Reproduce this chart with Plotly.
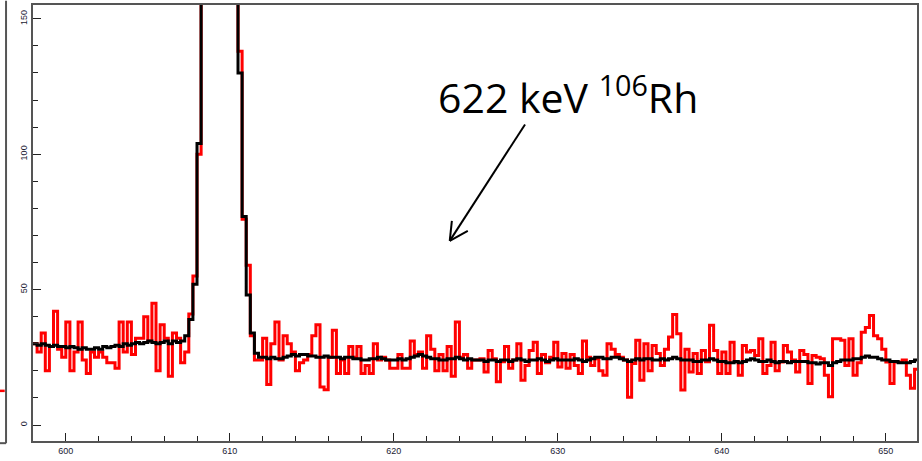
import plotly.graph_objects as go

# ---- data (energy bins of 0.25 keV starting at 598 keV) ----
bin_start = 598.0
bin_width = 0.25

measured_counts = [
    30, 27, 34, 20, 29, 42, 28, 25, 38, 20,
    27, 38, 24, 19, 27, 25, 27, 25, 23, 23,
    21, 38, 27, 38, 26, 32, 32, 40, 31, 45,
    20, 37, 32, 18, 34, 32, 23, 27, 41, 55,
    100, 230, 410, 650, 790, 830, 690, 510, 310, 200,
    138, 76, 59, 33, 24, 24, 32, 15, 30, 38,
    24, 33, 30, 27, 20, 23, 24, 26, 33, 37,
    14, 13, 25, 35, 19, 24, 19, 29, 25, 29,
    19, 22, 19, 30, 24, 25, 24, 21, 21, 26,
    21, 21, 31, 26, 27, 21, 33, 28, 20, 26,
    20, 29, 18, 38, 25, 26, 21, 24, 24, 24.5,
    19.6, 27.5, 24.5, 16, 23.4, 29, 21, 24, 30, 16.5,
    22, 27.5, 30.6, 19, 26, 23, 25, 30.6, 21.4, 26.4,
    21, 26, 22, 19, 31, 25, 22, 24.5, 20, 18.4,
    30, 28, 26, 25, 24, 10.3, 22.7, 31.3, 16.5, 30,
    20, 29.4, 26.4, 22, 28, 32.5, 40.8, 33.7, 12.9, 28,
    19.6, 26.4, 19, 27.5, 23.4, 36.8, 27.5, 19, 27, 19,
    30.6, 23.4, 18.4, 29.4, 27, 27.5, 25.7, 31.9, 19, 22,
    30.6, 20, 23.3, 29.4, 27, 24, 19.6, 27.5, 26, 15.3,
    25.7, 25, 24.5, 18.4, 10.4, 31.9, 31.9, 31.3, 22, 31.9,
    18.4, 23, 34.3, 36, 40.4, 33, 31.9, 28, 23.3, 15.3,
    23.3, 23.3, 24, 18.4, 13.6, 20.6,
]

smoothed_counts = [
    30, 29.5, 30, 29.5, 29, 29.5, 29, 29, 28.5, 29,
    28.5, 28, 28.5, 28, 28, 28.5, 28, 29, 28.5, 29,
    29.5, 29, 30, 29.5, 30, 30.5, 30, 30.5, 31, 30.5,
    30, 30.5, 31, 30, 31, 30.5, 31, 33, 39, 52,
    104, 225, 415, 645, 795, 825, 695, 505, 315, 195,
    130, 77, 48, 34, 26.5, 25, 25, 24.5, 25, 24.5,
    24.5, 25, 25.5, 26, 25.5, 26, 26, 25.5, 25.5, 25,
    25, 25.5, 25, 25, 25, 24.5, 25, 25, 24.5, 24.5,
    24, 24, 24.5, 24.5, 25, 24.5, 24, 24, 24, 24.5,
    24, 24.5, 25, 25.5, 26, 25.5, 25, 24.5, 24.5, 24,
    24, 24.5, 24.5, 25, 24.5, 24, 24.5, 24, 24, 24,
    23.5, 24, 24, 23.5, 24, 24, 23.5, 24, 24.5, 24,
    23.5, 24, 24, 24.5, 24, 23.5, 24, 24.5, 24, 24,
    24, 24, 24.5, 24, 23.5, 24, 24.5, 25, 25, 24.5,
    24.5, 25, 25, 24.5, 24, 23.5, 24, 24.5, 24, 24.5,
    24.5, 24, 24, 24.5, 24, 24.5, 25, 24.5, 24, 24,
    24, 23.5, 23.5, 24, 24, 24.5, 24, 23.5, 23.5, 23,
    23, 23.5, 23, 23.5, 24, 24.5, 24, 23.5, 23.5, 24,
    23.5, 23, 23.5, 23.5, 23, 23.5, 23.5, 23.5, 23.5, 23,
    23, 22.5, 23, 23, 22, 23, 23.5, 24, 24, 24,
    24.5, 24.5, 25, 25.5, 25, 25, 24.5, 24, 24, 23.5,
    23.5, 23, 23, 23, 23.5, 24,
]

x_ticks = [600, 610, 620, 630, 640, 650]
y_ticks = [0, 50, 100, 150]
label_text = "622 keV <sup>106</sup>Rh"

# step-histogram edges
n = len(measured_counts)
edges = [bin_start + bin_width * i for i in range(n + 1)]
red_y = measured_counts + [measured_counts[-1]]
blk_y = smoothed_counts + [smoothed_counts[-1]]

fig = go.Figure()
fig.add_trace(go.Scatter(x=edges, y=red_y, mode="lines", line_shape="hv",
                         line=dict(color="#ff0000", width=3), showlegend=False))
fig.add_trace(go.Scatter(x=edges, y=blk_y, mode="lines", line_shape="hv",
                         line=dict(color="#000000", width=3), showlegend=False))

tickfont = dict(family="Liberation Sans, Arial, sans-serif", size=9, color="#1a1a33")

fig.update_xaxes(range=[598.0, 651.9], tickvals=x_ticks, ticks="inside", ticklen=8,
                 tickwidth=1, tickcolor="#222", showgrid=False, zeroline=False,
                 showline=True, linecolor="#555", linewidth=2, mirror=True,
                 minor=dict(dtick=2, ticks="inside", ticklen=5, tickcolor="#222", tickwidth=1),
                 tickfont=tickfont)
fig.update_yaxes(range=[-5.9, 155.1], tickvals=y_ticks, ticks="inside", ticklen=8,
                 tickwidth=1, tickcolor="#222", showgrid=False, zeroline=False,
                 showline=True, linecolor="#555", linewidth=2, mirror=True,
                 minor=dict(dtick=10, ticks="inside", ticklen=5, tickcolor="#222", tickwidth=1),
                 tickangle=-90, tickfont=tickfont)

# text label and arrow (decoration)
fig.add_annotation(x=630.6, y=121.8, xref="x", yref="y", text=label_text, showarrow=False,
                   font=dict(family="Open Sans, sans-serif", size=41, color="#000"))
arrow_line = dict(color="#000", width=2)
fig.add_shape(type="line", x0=628.0, y0=111.0, x1=623.41, y1=68.0, xref="x", yref="y", line=arrow_line)
fig.add_shape(type="line", x0=623.41, y0=68.0, x1=623.54, y1=75.4, xref="x", yref="y", line=arrow_line)
fig.add_shape(type="line", x0=623.41, y0=68.0, x1=624.51, y1=71.7, xref="x", yref="y", line=arrow_line)

# edge of neighbouring panel at far left
fig.add_shape(type="line", xref="paper", yref="paper", x0=-0.0305, x1=-0.0305, y0=-0.005, y1=1.01,
              line=dict(color="#555", width=2))
fig.add_shape(type="line", xref="paper", yref="paper", x0=-0.04, x1=-0.0305, y0=-0.005, y1=-0.005,
              line=dict(color="#555", width=2))
fig.add_shape(type="line", xref="paper", yref="paper", x0=-0.04, x1=-0.032, y0=0.115, y1=0.115,
              line=dict(color="#ff0000", width=2.5))

fig.update_layout(width=922, height=461, margin=dict(l=33, r=5, t=3, b=20),
                  plot_bgcolor="white", paper_bgcolor="white")

fig.write_html("out.html")
